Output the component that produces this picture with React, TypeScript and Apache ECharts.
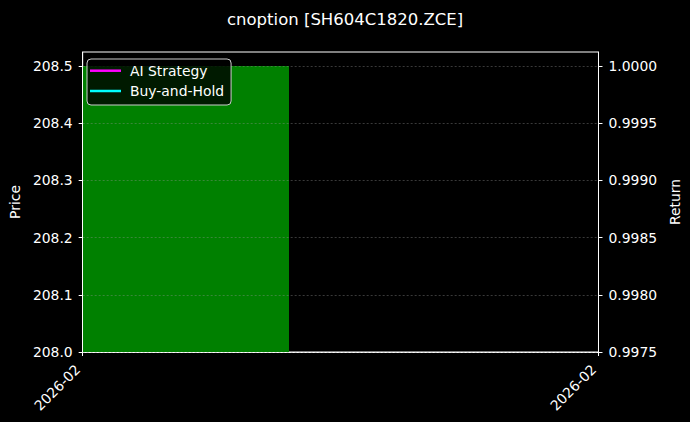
import React, { useRef, useEffect } from 'react';
import * as echarts from 'echarts';

// 데이터
const titleText = 'cnoption [SH604C1820.ZCE]';
const dateLabels = ['2026-02', '2026-02'];
const xTicks = [0, 1];
// price bar: [xStart, xEnd, low, high]
const priceBars: [number, number, number, number][] = [[0, 0.4, 208.0, 208.5]];
const priceTicks = [208.0, 208.1, 208.2, 208.3, 208.4, 208.5];
const returnTicks = [0.9975, 0.998, 0.9985, 0.999, 0.9995, 1.0];
const aiStrategy: [number, number][] = [[0, 1.0]];
const buyAndHold: [number, number][] = [[0, 1.0]];

const FONT = 'DejaVu Sans';
const TICK_FS = 13.9;

const App: React.FC = () => {
    const chartRef = useRef<HTMLDivElement>(null);

    useEffect(() => {
        if (!chartRef.current) return;
        const chart = echarts.init(chartRef.current, null, { renderer: 'svg' });

        const gridLine = {
            show: true,
            lineStyle: { color: 'rgba(150,150,150,0.55)', width: 0.7, type: [2, 2] as any }
        };

        chart.setOption({
            animation: false,
            backgroundColor: '#000000',
            textStyle: { fontFamily: FONT },
            title: {
                text: titleText,
                left: 222,
                top: 6,
                textStyle: { color: '#ffffff', fontSize: 16.5, fontWeight: 'normal', fontFamily: FONT }
            },
            legend: {
                left: 87,
                top: 59,
                orient: 'vertical',
                icon: 'rect',
                itemWidth: 31,
                itemHeight: 2.5,
                itemGap: 5.3,
                padding: [4.2, 7, 6.5, 3],
                backgroundColor: 'rgba(0,0,0,0.8)',
                borderColor: '#cccccc',
                borderWidth: 1,
                borderRadius: 4,
                textStyle: { color: '#ffffff', fontSize: 13.9, fontFamily: FONT, lineHeight: 15, padding: [0, 0, 0, 4] },
                data: ['AI Strategy', 'Buy-and-Hold']
            },
            grid: {
                left: 80,
                right: 88,
                top: 52,
                bottom: 70,
                show: true,
                borderColor: '#ffffff',
                borderWidth: 1,
                backgroundColor: 'transparent'
            },
            xAxis: {
                type: 'value',
                min: xTicks[0],
                max: xTicks[xTicks.length - 1],
                interval: 1,
                axisLine: { lineStyle: { color: '#ffffff' } },
                axisTick: { show: true, length: 4, lineStyle: { color: '#ffffff' } },
                splitLine: { show: false },
                axisLabel: {
                    color: '#ffffff',
                    fontSize: TICK_FS,
                    fontFamily: FONT,
                    rotate: 45,
                    margin: 10,
                    // en space keeps the rotated label's end clear of the tick, like matplotlib
                    formatter: (v: number) => (dateLabels[Math.round(v)] ?? '') + '\u2002'
                }
            },
            yAxis: [
                {
                    type: 'value',
                    name: 'Price',
                    nameLocation: 'middle',
                    nameGap: 55,
                    nameTextStyle: { color: '#ffffff', fontSize: TICK_FS, fontFamily: FONT },
                    min: 208.0,
                    max: 208.5245,
                    z: 3,
                    axisLine: { show: true, lineStyle: { color: '#ffffff' } },
                    axisTick: { show: true, length: 4, lineStyle: { color: '#ffffff' }, customValues: priceTicks },
                    axisLabel: {
                        color: '#ffffff',
                        fontSize: TICK_FS,
                        fontFamily: FONT,
                        margin: 10,
                        customValues: priceTicks,
                        formatter: (v: number) => v.toFixed(1)
                    },
                    splitLine: gridLine
                },
                {
                    type: 'value',
                    name: 'Return',
                    nameLocation: 'middle',
                    nameGap: 62,
                    nameTextStyle: { color: '#ffffff', fontSize: TICK_FS, fontFamily: FONT },
                    min: 0.9975,
                    max: 1.0001224,
                    z: 3,
                    axisLine: { show: true, lineStyle: { color: '#ffffff' } },
                    axisTick: { show: true, length: 4, lineStyle: { color: '#ffffff' }, customValues: returnTicks },
                    axisLabel: {
                        color: '#ffffff',
                        fontSize: TICK_FS,
                        fontFamily: FONT,
                        margin: 10,
                        customValues: returnTicks,
                        formatter: (v: number) => v.toFixed(4)
                    },
                    splitLine: { show: false }
                }
            ],
            series: [
                {
                    name: 'Price',
                    type: 'custom',
                    xAxisIndex: 0,
                    yAxisIndex: 0,
                    z: 1,
                    encode: { x: [0, 1], y: [2, 3] },
                    data: priceBars,
                    renderItem: (params: any, api: any) => {
                        const p0 = api.coord([api.value(0), api.value(2)]);
                        const p1 = api.coord([api.value(1), api.value(3)]);
                        return {
                            type: 'rect',
                            shape: { x: p0[0], y: p1[1], width: p1[0] - p0[0], height: p0[1] - p1[1] },
                            style: { fill: '#008000' }
                        };
                    }
                },
                {
                    name: 'AI Strategy',
                    type: 'line',
                    yAxisIndex: 1,
                    showSymbol: false,
                    color: '#ff00ff',
                    lineStyle: { width: 2 },
                    data: aiStrategy
                },
                {
                    name: 'Buy-and-Hold',
                    type: 'line',
                    yAxisIndex: 1,
                    showSymbol: false,
                    color: '#00ffff',
                    lineStyle: { width: 2 },
                    data: buyAndHold
                }
            ]
        });

        return () => {
            chart.dispose();
        };
    }, []);

    return (
        <div
            ref={chartRef}
            style={{ position: 'fixed', left: 0, top: 0, width: '690px', height: '422px', background: '#000' }}
        />
    );
};

export default App;
